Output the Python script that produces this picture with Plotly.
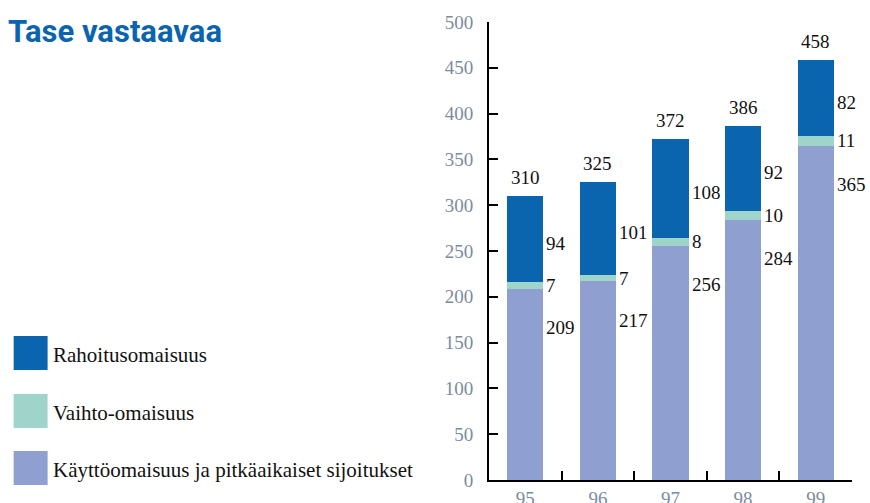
import plotly.graph_objects as go

# ---- data ----
years = ["95", "96", "97", "98", "99"]
kayttoomaisuus = [209, 217, 256, 284, 365]   # Käyttöomaisuus ja pitkäaikaiset sijoitukset
vaihto = [7, 7, 8, 10, 11]                   # Vaihto-omaisuus
rahoitus = [94, 101, 108, 92, 82]            # Rahoitusomaisuus
totals = [310, 325, 372, 386, 458]
series_names = ["Rahoitusomaisuus", "Vaihto-omaisuus",
                "Käyttöomaisuus ja pitkäaikaiset sijoitukset"]
title_text = "Tase vastaavaa"

C_DARK = "#0a64ae"
C_TEAL = "#9fd4cb"
C_LAV = "#8fa0d0"
TICK_COL = "#7b8c9e"
SERIF = "Liberation Serif, DejaVu Serif, serif"

W, H = 870, 503
ML, MR, MT, MB = 489, 17.5, 21.7, 23

fig = go.Figure()
fig.add_bar(x=years, y=kayttoomaisuus, marker_color=C_LAV, name=series_names[2],
            marker_line_width=0, width=0.5)
fig.add_bar(x=years, y=vaihto, marker_color=C_TEAL, name=series_names[1],
            marker_line_width=0, width=0.5)
fig.add_bar(x=years, y=rahoitus, marker_color=C_DARK, name=series_names[0],
            marker_line_width=0, width=0.5)

ann = []
lab_font = dict(family=SERIF, size=19, color="#111111")
for i, y in enumerate(years):
    b = kayttoomaisuus[i]
    v = vaihto[i]
    r = rahoitus[i]
    # totals above bars
    ann.append(dict(x=i, y=totals[i], xref="x", yref="y", text=str(totals[i]),
                    showarrow=False, yanchor="middle", yshift=19, font=lab_font))
    # segment labels right of bars
    ann.append(dict(x=i + 0.25, y=b + v + r / 2, xref="x", yref="y", text=str(r),
                    showarrow=False, xanchor="left", xshift=1, yshift=-4,
                    yanchor="middle", font=lab_font))
    ann.append(dict(x=i + 0.25, y=b + v / 2, xref="x", yref="y", text=str(v),
                    showarrow=False, xanchor="left", xshift=1, yanchor="middle",
                    font=lab_font))
    ann.append(dict(x=i + 0.25, y=b, xref="x", yref="y", text=str(b),
                    showarrow=False, xanchor="left", xshift=1, yshift=-39,
                    yanchor="middle", font=lab_font))

pw = W - ML - MR
ph = H - MT - MB


def px(x):
    return (x - ML) / pw


def py(y):
    return 1 - (y - MT) / ph


# title
ann.append(dict(x=px(5), y=py(31), xref="paper", yref="paper", text="<b>%s</b>" % title_text,
                showarrow=False, xanchor="left", yanchor="middle",
                font=dict(family="Roboto, Open Sans, sans-serif", size=31, color=C_DARK)))

# manual legend
shapes = []
legend_cols = [C_DARK, C_TEAL, C_LAV]
legend_y = [353, 411, 468]
for name, col, yc in zip(series_names, legend_cols, legend_y):
    shapes.append(dict(type="rect", xref="paper", yref="paper",
                       x0=px(13), x1=px(47), y0=py(yc - 17), y1=py(yc + 17),
                       fillcolor=col, line_width=0))
    ann.append(dict(x=px(50), y=py(yc + 2), xref="paper", yref="paper", text=name,
                    showarrow=False, xanchor="left", yanchor="middle",
                    font=dict(family=SERIF, size=21, color="#111111")))

fig.update_layout(
    width=W, height=H,
    margin=dict(l=ML, r=MR, t=MT, b=MB, pad=0, autoexpand=False),
    barmode="stack",
    showlegend=False,
    plot_bgcolor="white",
    paper_bgcolor="white",
    annotations=ann,
    shapes=shapes,
    xaxis=dict(type="category", range=[-0.5, len(years) - 0.5], tickson="boundaries",
               ticks="inside", ticklen=9,
               tickwidth=2, tickcolor="black", showline=True, linecolor="black",
               linewidth=2, showgrid=False, zeroline=False, automargin=False,
               tickfont=dict(family=SERIF, size=19, color=TICK_COL)),
    yaxis=dict(range=[0, 500], dtick=50, ticks="inside", ticklen=9, tickwidth=2,
               tickcolor="black", showline=True, linecolor="black", linewidth=2,
               showgrid=False, zeroline=False, ticklabelstandoff=10, automargin=False,
               tickfont=dict(family=SERIF, size=19, color=TICK_COL)),
)

fig.write_html("out.html", config={"displayModeBar": False},
               post_script="document.body.style.margin='0';document.body.style.padding='0';")
